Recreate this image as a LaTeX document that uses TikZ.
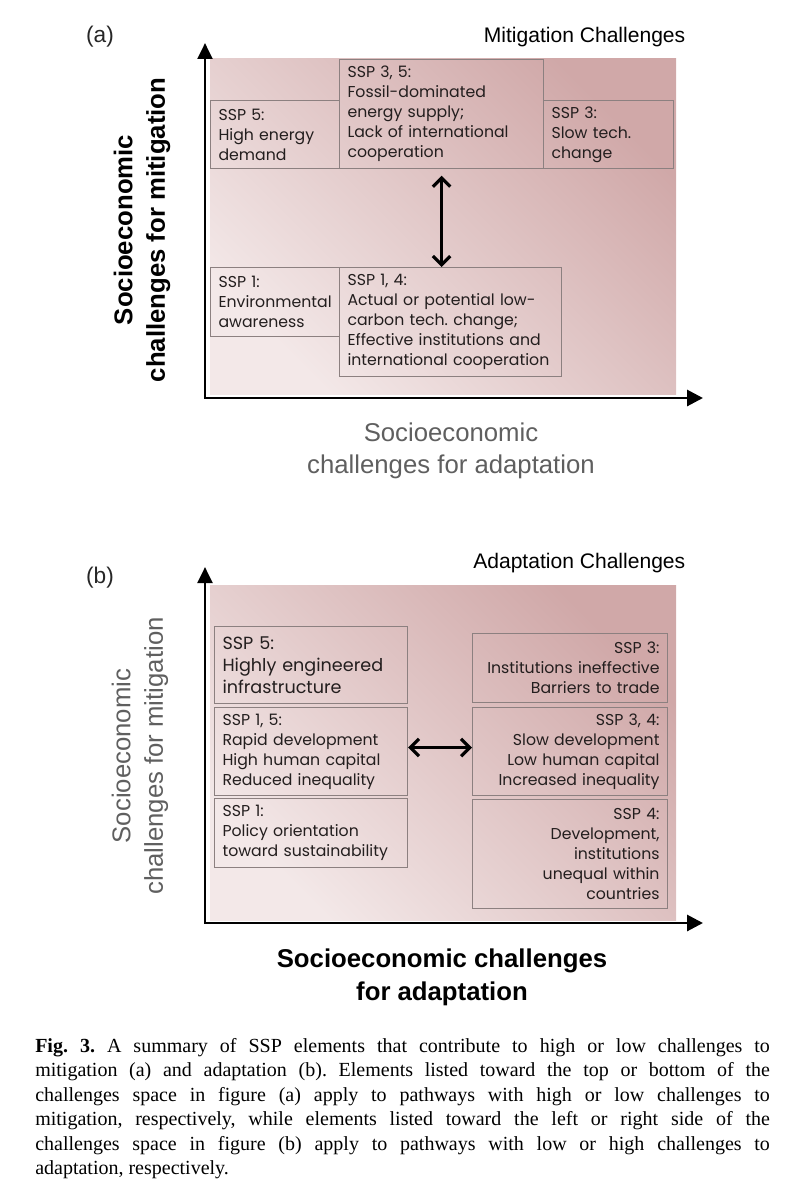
\documentclass[tikz,border=0pt]{standalone}
\usepackage{fontspec}
\setmainfont{Liberation Serif}
\newfontfamily\gothic{Poppins}
\newfontfamily\arial{Liberation Sans}
\usetikzlibrary{arrows.meta}
\hyphenpenalty=10000
\frenchspacing
\definecolor{boxline}{RGB}{140,128,128}
\definecolor{bglight}{RGB}{243,232,232}
\definecolor{bgdark}{RGB}{208,168,168}
\definecolor{labgray}{RGB}{95,95,95}
\definecolor{boxtext}{RGB}{35,30,30}
\tikzset{
  sspbox/.style 2 args={draw=boxline, line width=0.8pt, anchor=north west, text width=#1, minimum height=#2,
    inner xsep=6pt, inner ysep=0pt, align=left, text=boxtext, font=\gothic\fontsize{11.8}{15}\selectfont},
  bgshade/.style={top color=bgdark, bottom color=bglight, shading angle=-45},
  axisline/.style={line width=2.2pt, line join=miter, {Triangle[length=12pt,width=11pt]}-{Triangle[length=12pt,width=12pt]}},
  dblarrow/.style={line width=2.4pt, {Straight Barb[length=6.5pt,width=13pt]}-{Straight Barb[length=6.5pt,width=13pt]}},
  paneltag/.style={font=\arial\fontsize{17}{17}\selectfont, text=black!85},
  headlabel/.style={anchor=east, font=\arial\fontsize{15.8}{16}\selectfont},
  boldlabel/.style={align=center, font=\arial\bfseries\fontsize{19.3}{24.5}\selectfont},
  graylabel/.style={align=center, text=labgray, font=\arial\fontsize{19.3}{24.5}\selectfont}
}
\begin{document}
\begin{tikzpicture}[x=0.75pt,y=-0.75pt]
\useasboundingbox (0,0) rectangle (794,1188);
% panel (a): mitigation
\shade[bgshade] (210,59) rectangle (676,394);
\coordinate (aY) at (205,43);
\coordinate (aO) at (205,398);
\coordinate (aX) at (703,398);
\draw[axisline] (aY) -- (aO) -- (aX);
\node[paneltag] (taga) at (100,37) {(a)};
\node[headlabel] (mitig) at (690,37) {Mitigation Challenges};
\node[boldlabel, rotate=90] (aylab) at (142,230) {Socioeconomic\\challenges for mitigation};
\node[graylabel] (axlab) at (451,451) {Socioeconomic\\challenges for adaptation};
\node[sspbox={84.75pt}{51pt}] (ssp5a) at (210,100) {SSP 5:\\High energy\\demand};
\node[sspbox={141pt}{81.75pt}] (ssp35) at (339,59) {SSP 3, 5:\\Fossil-dominated\\energy supply;\\Lack of international\\cooperation};
\node[sspbox={85.5pt}{51pt}] (ssp3a) at (543,100) {SSP 3:\\Slow tech.\\change};
\node[sspbox={84.75pt}{51.75pt}] (ssp1a) at (210,267) {SSP 1:\\Environmental\\awareness};
\node[sspbox={154.5pt}{81.75pt}] (ssp14) at (339,267) {SSP 1, 4:\\Actual or potential low-\\carbon tech. change;\\Effective institutions and\\international cooperation};
\draw[dblarrow] ([yshift=-5pt]ssp35.south) -- (ssp35.south |- ssp14.north);
% panel (b): adaptation
\shade[bgshade] (210,585) rectangle (676,920);
\coordinate (bY) at (205,567);
\coordinate (bO) at (205,923);
\coordinate (bX) at (703,923);
\draw[axisline] (bY) -- (bO) -- (bX);
\node[paneltag] (tagb) at (100,578) {(b)};
\node[headlabel] (adapt) at (690,563) {Adaptation Challenges};
\node[graylabel, rotate=90] (bylab) at (140,756) {Socioeconomic\\challenges for mitigation};
\node[boldlabel] (bxlab) at (442,977) {Socioeconomic challenges\\for adaptation};
\node[sspbox={132.75pt}{57.75pt}, font=\gothic\fontsize{13.2}{16.5}\selectfont] (ssp5b) at (214,626) {SSP 5:\\Highly engineered\\infrastructure};
\node[sspbox={132.75pt}{66pt}] (ssp15) at (214,707) {SSP 1, 5:\\Rapid development\\High human capital\\Reduced inequality};
\node[sspbox={132.75pt}{51.75pt}] (ssp1b) at (214,798) {SSP 1:\\Policy orientation\\toward sustainability};
\node[sspbox={134.25pt}{51.75pt}, align=right] (ssp3b) at (472,633) {SSP 3:\\Institutions ineffective\\Barriers to trade};
\node[sspbox={134.25pt}{66pt}, align=right] (ssp34) at (472,707) {SSP 3, 4:\\Slow development\\Low human capital\\Increased inequality};
\node[sspbox={134.25pt}{81.75pt}, align=right] (ssp4b) at (472,799) {SSP 4:\\Development,\\institutions\\unequal within\\countries};
\draw[dblarrow] ([yshift=3pt]ssp15.east) -- ([yshift=3pt]ssp34.west);
% caption
\node[anchor=base west, text width=551pt, inner sep=0pt, align=justify, font=\fontsize{15}{18.4}\selectfont] (caption) at (35,1052)
  {\textbf{Fig. 3.} A summary of SSP elements that contribute to high or low challenges to\linebreak
   mitigation (a) and adaptation (b). Elements listed toward the top or bottom of the\linebreak
   challenges space in figure (a) apply to pathways with high or low challenges to\linebreak
   mitigation, respectively, while elements listed toward the left or right side of the\linebreak
   challenges space in figure (b) apply to pathways with low or high challenges to\linebreak
   adaptation, respectively.};
\end{tikzpicture}
\end{document}
